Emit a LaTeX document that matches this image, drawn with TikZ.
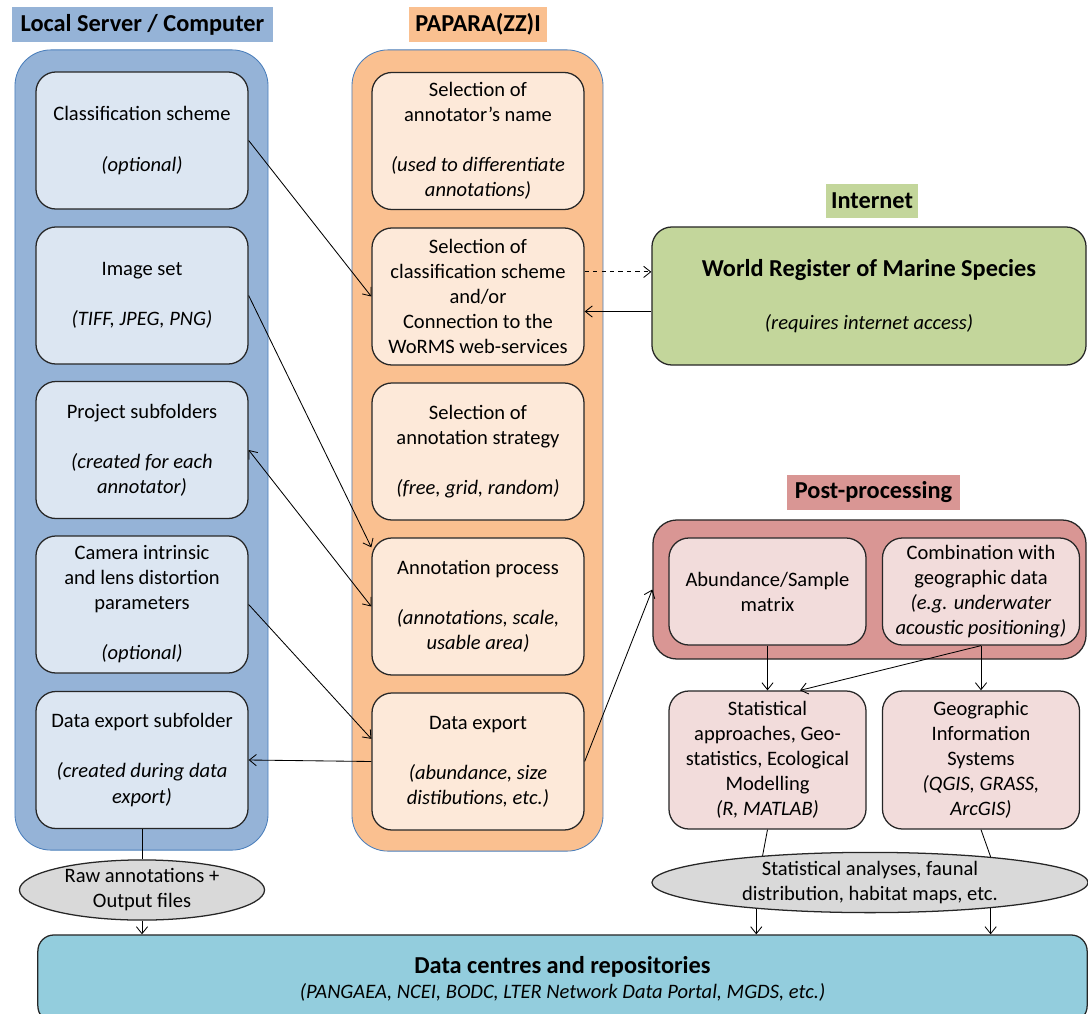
\documentclass[tikz,border=0pt]{standalone}
\usepackage{fontspec}
\setmainfont{Carlito}
\usetikzlibrary{shapes.geometric,arrows.meta}
\definecolor{blueOut}{HTML}{95B3D7}
\definecolor{blueIn}{HTML}{DCE6F2}
\definecolor{blueLine}{HTML}{4A7EBB}
\definecolor{orangeOut}{HTML}{FAC090}
\definecolor{orangeIn}{HTML}{FDE9D9}
\definecolor{greenBox}{HTML}{C3D69B}
\definecolor{pinkOut}{HTML}{D99694}
\definecolor{pinkIn}{HTML}{F2DCDB}
\definecolor{grayOval}{HTML}{D9D9D9}
\definecolor{tealBox}{HTML}{93CDDD}
\definecolor{edgeGray}{HTML}{262626}
\newcommand{\bodyfont}{\fontsize{14.6}{17.8}\selectfont}
\newcommand{\headfont}{\fontsize{17.3}{20}\selectfont\bfseries}
\tikzstyle{outerBox}=[shape = rectangle, rounded corners = 0.9cm, draw = blueLine, line width = 0.6pt]
\tikzstyle{innerBox}=[shape = rectangle, rounded corners = 0.5cm, draw = edgeGray, line width = 0.9pt, align = center, inner sep = 2pt, font = \bodyfont, minimum width = 5.3cm, minimum height = 3.425cm]
\tikzstyle{headBox}=[shape = rectangle, inner sep = 0pt, font = \headfont, minimum height = 0.875cm]

\begin{document}
\begin{tikzpicture}[x = 0.025cm, y = -0.025cm, >={Straight Barb[length=5pt,width=8pt]}]
\tikzstyle{oval}=[shape = ellipse, draw = edgeGray, line width = 0.9pt, fill = grayOval, align = center, inner sep = 0pt, font = \bodyfont]
\tikzstyle{link}=[line width = 0.6pt, draw = black]
\useasboundingbox (0,0) rectangle (1088,1014);
\node[headBox, fill = blueOut, minimum width = 6.525cm] (hLocal) at (142.5,24.5) {Local Server / Computer};
\node[headBox, fill = orangeOut, minimum width = 3.45cm] (hPapara) at (478,24.5) {PAPARA(ZZ)I};
\node[headBox, fill = greenBox, minimum width = 2.3cm, minimum height = 0.85cm] (hNet) at (872,201) {Internet};
\node[headBox, fill = pinkOut, minimum width = 4.325cm] (hPost) at (873.5,492.5) {Post-processing};
\node[outerBox, fill = blueOut, minimum width = 6.325cm, minimum height = 20cm] (lOut) at (141.5,450) {};
\node[outerBox, fill = orangeOut, minimum width = 6.275cm, minimum height = 20.025cm] (pOut) at (477.5,450.5) {};
\node[innerBox, fill = blueIn] (l0) at (142,140.5) {Classification scheme\\[17.8pt]\textit{(optional)}};
\node[innerBox, fill = blueIn] (l1) at (142,295.5) {Image set\\[17.8pt]\textit{(TIFF, JPEG, PNG)}};
\node[innerBox, fill = blueIn] (l2) at (142,450) {Project subfolders\\[17.8pt]\textit{(created for each}\\\textit{annotator)}};
\node[innerBox, fill = blueIn] (l3) at (142,604.5) {Camera intrinsic\\and lens distortion\\parameters\\[17.8pt]\textit{(optional)}};
\node[innerBox, fill = blueIn] (l4) at (142,760) {Data export subfolder\\[17.8pt]\textit{(created during data}\\\textit{export)}};
\node[innerBox, fill = orangeIn] (p0) at (478,141) {Selection of\\annotator’s name\\[17.8pt]\textit{(used to differentiate}\\\textit{annotations)}};
\node[innerBox, fill = orangeIn] (p1) at (478,296.5) {Selection of\\classification scheme\\and/or\\Connection to the\\WoRMS web-services};
\node[innerBox, fill = orangeIn] (p2) at (478,451.5) {Selection of\\annotation strategy\\[17.8pt]\textit{(free, grid, random)}};
\node[innerBox, fill = orangeIn] (p3) at (478,606.5) {Annotation process\\[17.8pt]\textit{(annotations, scale,}\\\textit{usable area)}};
\node[innerBox, fill = orangeIn] (p4) at (478,761.5) {Data export\\[17.8pt]\textit{(abundance, size}\\\textit{distibutions, etc.)}};
\node[innerBox, fill = greenBox, minimum width = 10.85cm, minimum height = 3.45cm] (w0) at (869,296) {{\headfont World Register of Marine Species}\\[20pt]\textit{(requires internet access)}};
\node[outerBox, draw = edgeGray, line width = 0.9pt, fill = pinkOut, rounded corners = 0.6cm, minimum width = 10.825cm, minimum height = 3.475cm] (qOut) at (869.5,589.5) {};
\node[innerBox, fill = pinkIn, minimum width = 4.925cm, minimum height = 2.675cm] (q0) at (767.5,591.5) {Abundance/Sample\\matrix};
\node[innerBox, fill = pinkIn, minimum width = 4.925cm, minimum height = 2.675cm] (q1) at (981,591.5) {Combination with\\geographic data\\\textit{(e.g. underwater}\\\textit{acoustic positioning)}};
\node[innerBox, fill = pinkIn, minimum width = 4.925cm, minimum height = 3.45cm] (q2) at (767.5,760) {Statistical\\approaches, Geo-\\statistics, Ecological\\Modelling\\\textit{(R, MATLAB)}};
\node[innerBox, fill = pinkIn, minimum width = 4.925cm, minimum height = 3.45cm] (q3) at (981,760) {Geographic\\Information\\Systems\\\textit{(QGIS, GRASS,}\\\textit{ArcGIS)}};
\node[oval, minimum width = 6.125cm, minimum height = 1.4cm] (e0) at (142,890) {Raw annotations +\\Output files};
\node[oval, minimum width = 10.9cm, minimum height = 1.475cm] (e1) at (870,882.5) {Statistical analyses, faunal\\distribution, habitat maps, etc.};
\node[innerBox, fill = tealBox, rounded corners = 0.4cm, minimum width = 26.225cm, minimum height = 2.175cm] (d0) at (562.5,978.5) {{\headfont Data centres and repositories}\\\textit{(PANGAEA, NCEI, BODC, LTER Network Data Portal, MGDS, etc.)}};
\draw[link, ->] (l0.east) -- (p1.west);
\draw[link, ->] (l1.east) -- (p3.151);
\draw[link, <->] (l2.east) -- (p3.west);
\draw[link, ->] (l3.east) -- (p4.168);
\draw[link, ->] (p4.west) -- (l4.east);
\draw[link, ->, dashed] (p1.13) -- (p1.13 -| w0.west);
\draw[link, ->] (p1.-8 -| w0.west) -- (p1.-8);
\draw[link, ->] (p4.east) -- (qOut.west);
\draw[link, ->] (q0.south) -- (q2.north);
\draw[link, ->] (q1.south) -- (q3.north);
\draw[link, ->] (q1.south) -- (q2.65);
\draw[link] (l4.south) -- (e0.north);
\draw[link, ->] (e0.south) -- (e0.south |- d0.north);
\draw[link] (q2.south) -- (e1.166);
\draw[link] (q3.south) -- (e1.12);
\draw[link, ->] (e1.-167) -- (e1.-167 |- d0.north);
\draw[link, ->] (e1.-12) -- (e1.-12 |- d0.north);
\end{tikzpicture}
\end{document}
